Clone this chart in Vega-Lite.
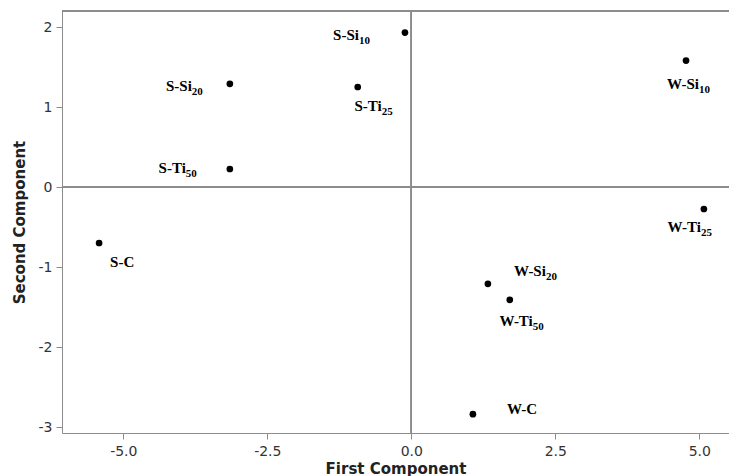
{
  "$schema": "https://vega.github.io/schema/vega-lite/v6.json",
  "width": 667,
  "height": 422,
  "autosize": {"type": "none"},
  "padding": {"left": 62, "top": 11, "right": 0, "bottom": 43},
  "background": "white",
  "config": {
    "view": {"stroke": null},
    "axis": {
      "labelFont": "DejaVu Sans", "labelFontSize": 14, "labelColor": "#333",
      "titleFont": "DejaVu Sans", "titleFontSize": 15, "titleFontWeight": "bold", "titleColor": "#222",
      "domainColor": "#8c8c8c", "tickColor": "#8c8c8c", "tickSize": 6, "grid": false
    }
  },
  "data": {"values": [
    {"name": "S-Si10", "base": "S-Si", "sub": "10", "x": -0.11, "y": 1.93},
    {"name": "S-Ti25", "base": "S-Ti", "sub": "25", "x": -0.93, "y": 1.25},
    {"name": "S-Si20", "base": "S-Si", "sub": "20", "x": -3.15, "y": 1.29},
    {"name": "S-Ti50", "base": "S-Ti", "sub": "50", "x": -3.15, "y": 0.225},
    {"name": "S-C", "base": "S-C", "sub": "", "x": -5.42, "y": -0.70},
    {"name": "W-Si10", "base": "W-Si", "sub": "10", "x": 4.77, "y": 1.58},
    {"name": "W-Ti25", "base": "W-Ti", "sub": "25", "x": 5.08, "y": -0.275},
    {"name": "W-Si20", "base": "W-Si", "sub": "20", "x": 1.33, "y": -1.21},
    {"name": "W-Ti50", "base": "W-Ti", "sub": "50", "x": 1.71, "y": -1.41},
    {"name": "W-C", "base": "W-C", "sub": "", "x": 1.07, "y": -2.84}
  ]},
  "encoding": {
    "x": {"field": "x", "type": "quantitative",
      "scale": {"domain": [-6.064, 5.516], "nice": false, "zero": false},
      "axis": {"title": "First Component", "values": [-5, -2.5, 0, 2.5, 5],
        "labelExpr": "datum.value < 0 ? '-' + format(-datum.value, '.1f') : format(datum.value, '.1f')",
        "labelPadding": 5, "titlePadding": 3}},
    "y": {"field": "y", "type": "quantitative",
      "scale": {"domain": [-3.075, 2.2], "nice": false, "zero": false},
      "axis": {"title": "Second Component", "values": [-3, -2, -1, 0, 1, 2],
        "labelExpr": "datum.value < 0 ? '-' + format(-datum.value, 'd') : format(datum.value, 'd')",
        "labelPadding": 4, "titlePadding": 11}}
  },
  "layer": [
    {"mark": {"type": "rule", "color": "#8c8c8c", "strokeWidth": 1}, "encoding": {"x": {"datum": 0}, "y": null}},
    {"mark": {"type": "rule", "color": "#8c8c8c", "strokeWidth": 1}, "encoding": {"y": {"datum": 0}, "x": null}},
    {"mark": {"type": "rule", "color": "#8c8c8c", "strokeWidth": 1}, "encoding": {"y": {"datum": 2.2}, "x": null}},
    {"mark": {"type": "circle", "color": "black", "opacity": 1, "size": 45}},

    {"transform": [{"filter": "datum.name == 'S-Si10'"}], "mark": {"type": "text", "font": "Liberation Serif", "fontWeight": "bold", "fontSize": 15, "align": "right", "baseline": "alphabetic", "dx": -46, "dy": 7, "color": "black"}, "encoding": {"text": {"field": "base"}}},
    {"transform": [{"filter": "datum.name == 'S-Si10'"}], "mark": {"type": "text", "font": "Liberation Serif", "fontWeight": "bold", "fontSize": 11, "align": "left", "baseline": "alphabetic", "dx": -46, "dy": 11, "color": "black"}, "encoding": {"text": {"field": "sub"}}},

    {"transform": [{"filter": "datum.name == 'S-Ti25'"}], "mark": {"type": "text", "font": "Liberation Serif", "fontWeight": "bold", "fontSize": 15, "align": "right", "baseline": "alphabetic", "dx": 24, "dy": 24, "color": "black"}, "encoding": {"text": {"field": "base"}}},
    {"transform": [{"filter": "datum.name == 'S-Ti25'"}], "mark": {"type": "text", "font": "Liberation Serif", "fontWeight": "bold", "fontSize": 11, "align": "left", "baseline": "alphabetic", "dx": 24, "dy": 28, "color": "black"}, "encoding": {"text": {"field": "sub"}}},

    {"transform": [{"filter": "datum.name == 'S-Si20'"}], "mark": {"type": "text", "font": "Liberation Serif", "fontWeight": "bold", "fontSize": 15, "align": "right", "baseline": "alphabetic", "dx": -38, "dy": 7, "color": "black"}, "encoding": {"text": {"field": "base"}}},
    {"transform": [{"filter": "datum.name == 'S-Si20'"}], "mark": {"type": "text", "font": "Liberation Serif", "fontWeight": "bold", "fontSize": 11, "align": "left", "baseline": "alphabetic", "dx": -38, "dy": 11, "color": "black"}, "encoding": {"text": {"field": "sub"}}},

    {"transform": [{"filter": "datum.name == 'S-Ti50'"}], "mark": {"type": "text", "font": "Liberation Serif", "fontWeight": "bold", "fontSize": 15, "align": "right", "baseline": "alphabetic", "dx": -44, "dy": 4, "color": "black"}, "encoding": {"text": {"field": "base"}}},
    {"transform": [{"filter": "datum.name == 'S-Ti50'"}], "mark": {"type": "text", "font": "Liberation Serif", "fontWeight": "bold", "fontSize": 11, "align": "left", "baseline": "alphabetic", "dx": -44, "dy": 8, "color": "black"}, "encoding": {"text": {"field": "sub"}}},

    {"transform": [{"filter": "datum.name == 'S-C'"}], "mark": {"type": "text", "font": "Liberation Serif", "fontWeight": "bold", "fontSize": 15, "align": "left", "baseline": "alphabetic", "dx": 11, "dy": 24, "color": "black"}, "encoding": {"text": {"field": "base"}}},

    {"transform": [{"filter": "datum.name == 'W-Si10'"}], "mark": {"type": "text", "font": "Liberation Serif", "fontWeight": "bold", "fontSize": 15, "align": "right", "baseline": "alphabetic", "dx": 13, "dy": 28, "color": "black"}, "encoding": {"text": {"field": "base"}}},
    {"transform": [{"filter": "datum.name == 'W-Si10'"}], "mark": {"type": "text", "font": "Liberation Serif", "fontWeight": "bold", "fontSize": 11, "align": "left", "baseline": "alphabetic", "dx": 13, "dy": 32, "color": "black"}, "encoding": {"text": {"field": "sub"}}},

    {"transform": [{"filter": "datum.name == 'W-Ti25'"}], "mark": {"type": "text", "font": "Liberation Serif", "fontWeight": "bold", "fontSize": 15, "align": "right", "baseline": "alphabetic", "dx": -3, "dy": 23, "color": "black"}, "encoding": {"text": {"field": "base"}}},
    {"transform": [{"filter": "datum.name == 'W-Ti25'"}], "mark": {"type": "text", "font": "Liberation Serif", "fontWeight": "bold", "fontSize": 11, "align": "left", "baseline": "alphabetic", "dx": -3, "dy": 27, "color": "black"}, "encoding": {"text": {"field": "sub"}}},

    {"transform": [{"filter": "datum.name == 'W-Si20'"}], "mark": {"type": "text", "font": "Liberation Serif", "fontWeight": "bold", "fontSize": 15, "align": "right", "baseline": "alphabetic", "dx": 58, "dy": -8, "color": "black"}, "encoding": {"text": {"field": "base"}}},
    {"transform": [{"filter": "datum.name == 'W-Si20'"}], "mark": {"type": "text", "font": "Liberation Serif", "fontWeight": "bold", "fontSize": 11, "align": "left", "baseline": "alphabetic", "dx": 58, "dy": -4, "color": "black"}, "encoding": {"text": {"field": "sub"}}},

    {"transform": [{"filter": "datum.name == 'W-Ti50'"}], "mark": {"type": "text", "font": "Liberation Serif", "fontWeight": "bold", "fontSize": 15, "align": "right", "baseline": "alphabetic", "dx": 23, "dy": 26, "color": "black"}, "encoding": {"text": {"field": "base"}}},
    {"transform": [{"filter": "datum.name == 'W-Ti50'"}], "mark": {"type": "text", "font": "Liberation Serif", "fontWeight": "bold", "fontSize": 11, "align": "left", "baseline": "alphabetic", "dx": 23, "dy": 30, "color": "black"}, "encoding": {"text": {"field": "sub"}}},

    {"transform": [{"filter": "datum.name == 'W-C'"}], "mark": {"type": "text", "font": "Liberation Serif", "fontWeight": "bold", "fontSize": 15, "align": "left", "baseline": "alphabetic", "dx": 34, "dy": 0, "color": "black"}, "encoding": {"text": {"field": "base"}}}
  ]
}
